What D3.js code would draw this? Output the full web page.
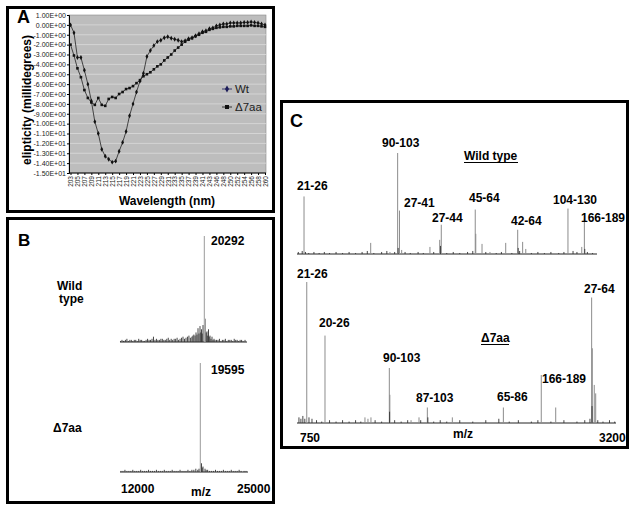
<!DOCTYPE html>
<html><head><meta charset="utf-8">
<script src="https://cdn.jsdelivr.net/npm/d3@7"></script>
<style>body{margin:0;background:#fff}svg{display:block}text{font-family:"Liberation Sans",Arial,sans-serif}</style>
</head><body><svg id="c" width="634" height="511"></svg>
<script>
// ---------- Panel A data (CD spectra) ----------
const wavelengths = [203,204,205,206,207,208,209,210,211,212,213,214,215,216,217,218,219,220,221,222,223,224,225,226,227,228,229,230,231,232,233,234,235,236,237,238,239,240,241,242,243,245,246,247,248,249,250,251,252,253,254,255,256,257,258,259,260];
const wtCD = [0.0,-0.8,-3.3,-3.3,-4.6,-6.0,-7.7,-9.8,-11.0,-12.6,-13.3,-13.6,-13.9,-13.8,-12.8,-11.9,-10.8,-9.2,-8.0,-6.8,-5.7,-4.9,-3.2,-2.6,-2.1,-1.7,-1.55,-1.3,-1.2,-1.35,-1.45,-1.55,-1.7,-1.6,-1.4,-1.3,-1.1,-0.9,-0.7,-0.6,-0.4,-0.3,-0.1,0.0,0.1,0.1,0.2,0.2,0.2,0.2,0.25,0.25,0.3,0.25,0.2,0.1,0.0];
const d7CD = [-2.0,-3.1,-4.4,-5.3,-6.6,-7.4,-7.85,-8.1,-7.4,-8.1,-8.2,-7.5,-7.3,-7.4,-7.0,-6.8,-6.5,-6.4,-6.2,-5.9,-5.6,-5.2,-5.0,-4.8,-4.5,-4.2,-4.0,-3.6,-3.3,-3.0,-2.6,-2.3,-2.0,-1.7,-1.5,-1.35,-1.15,-1.0,-0.8,-0.7,-0.5,-0.4,-0.3,-0.25,-0.2,-0.2,-0.15,-0.15,-0.1,-0.1,-0.1,-0.1,-0.05,-0.1,-0.1,-0.15,-0.2];
const cdTicks = [1,0,-1,-2,-3,-4,-5,-6,-7,-8,-9,-10,-11,-12,-13,-14,-15];
const wlLabels = [203,205,207,209,211,213,215,217,219,221,223,225,227,229,231,233,235,237,239,241,243,246,248,250,252,254,256,258,260];
const seriesNames = ["Wt","\u03947aa"];

// ---------- Panel B data (intact mass, m/z, relative intensity) ----------
const bWtPeaks = [[20562,100],[20684,22]];
const bWtNoise = [[12050,1],[12200,2],[12350,1],[12400,1],[12550,2],[12700,3],[12850,1],[13000,2],[13150,2],[13300,1],[13450,2],[13600,2],[13750,1],[13900,3],[14050,2],[14200,2],[14350,1],[14500,1],[14650,2],[14800,3],[14950,2],[15100,2],[15250,3],[15400,5],[15550,2],[15700,3],[15850,2],[16000,2],[16150,3],[16300,3],[16450,2],[16600,2],[16750,3],[16900,4],[17050,2],[17200,3],[17350,2],[17500,3],[17650,3],[17800,4],[17950,2],[18100,3],[18250,4],[18400,5],[18550,3],[18700,4],[18850,5],[19000,6],[19150,4],[19300,5],[19400,6],[19500,7],[19620,6],[19719,9],[19820,7],[19922,13],[20020,8],[20125,15],[20200,9],[20278,12],[20350,8],[20430,16],[20760,9],[20836,10],[20910,6],[20989,12],[21060,5],[21141,6],[21240,3],[21344,5],[21450,2],[21547,3],[21650,2],[21800,2],[21950,2],[22100,3],[22250,1],[22400,2],[22550,2],[22700,3],[22850,1],[23000,2],[23150,2],[23300,2],[23450,1],[23600,3],[23750,2],[23900,2],[24050,1],[24200,2],[24350,2],[24500,1],[24700,2]];
const bD7Peaks = [[20156,100]];
const bD7Noise = [[12100,1],[12300,1],[12500,2],[12700,1],[12900,1],[13100,1],[13300,2],[13500,1],[13700,1],[13900,1],[14100,2],[14300,1],[14500,1],[14700,1],[14900,2],[15100,1],[15300,1],[15500,1],[15700,2],[15900,1],[16100,1],[16300,1],[16500,2],[16700,1],[16900,1],[17100,1],[17300,2],[17500,1],[17700,1],[17900,1],[18100,2],[18300,1],[18500,1],[18700,1],[18900,2],[19100,1],[19300,2],[19500,2],[19700,3],[19900,2],[20024,3],[20278,8],[20350,4],[20430,5],[20633,3],[20750,2],[20900,2],[21100,1],[21300,1],[21500,1],[21700,2],[21900,1],[22100,1],[22300,1],[22500,2],[22700,1],[22900,1],[23100,1],[23300,2],[23500,1],[23700,1],[23900,1],[24100,2],[24300,1],[24600,1],[24800,1]];

// ---------- Panel C data (peptide map, m/z, relative intensity) ----------
const cWtPeaks = [[804,57],[1316,11],[1464,2],[1523,100],[1537,43],[1554,4],[1771,7],[1846,14],[1858,29],[2119,44],[2123,20],[2171,10],[2232,2],[2353,11],[2445,24],[2483,12],[2507,5],[2831,45],[2937,7],[2957,35]];
const cWtNoise = [[760,2],[790,3],[815,2],[840,1],[880,2],[920,1],[960,2],[1000,1],[1050,2],[1100,1],[1150,2],[1200,1],[1250,2],[1290,3],[1340,1],[1400,2],[1440,3],[1500,2],[1527,6],[1580,2],[1620,1],[1680,2],[1720,1],[1800,2],[1852,8],[1900,1],[1950,2],[2000,1],[2060,2],[2100,3],[2200,2],[2280,1],[2320,2],[2400,1],[2449,6],[2460,3],[2550,1],[2600,2],[2650,1],[2700,2],[2760,1],[2800,2],[2870,3],[2900,2],[2960,5],[2980,2],[3020,1]];
const cD7Peaks = [[825,100],[965,62],[1272,4],[1295,3],[1318,4],[1459,39],[1463,20],[1626,2],[1687,4],[1751,11],[1943,4],[2335,11],[2626,34],[2737,11],[3013,89],[3018,53],[3033,27],[3044,21]];
const cD7Noise = [[765,4],[780,3],[795,5],[810,3],[842,4],[865,3],[900,2],[940,1],[1000,2],[1050,1],[1100,2],[1150,1],[1200,2],[1240,1],[1350,2],[1400,1],[1461,8],[1500,2],[1550,1],[1600,2],[1700,2],[1755,4],[1800,1],[1850,2],[1900,1],[2000,2],[2100,1],[2200,2],[2300,3],[2380,1],[2450,2],[2550,1],[2600,2],[2700,1],[2800,2],[2900,1],[2960,2],[3000,3],[3016,12],[3060,2],[3100,1],[3150,2],[3190,1]];
const cWtLabels = ["21-26","90-103","27-41","27-44","45-64","42-64","104-130","166-189"];
const cD7Labels = ["21-26","20-26","90-103","87-103","65-86","166-189","27-64"];

// ---------- layout ----------
const svg = d3.select("#c");
const F = "'Liberation Sans', Arial, sans-serif";

[[7.5,7.5,266,204],[7.5,218.5,266,284],[281.5,101.5,346,346]].forEach(r=>{
  svg.append("rect").attr("x",r[0]).attr("y",r[1]).attr("width",r[2]).attr("height",r[3])
    .attr("fill","none").attr("stroke","#000").attr("stroke-width",3);
});
const panelLetter=(t,x,y,s)=>svg.append("text").attr("x",x).attr("y",y).attr("font-size",s).attr("font-weight","bold").text(t);
panelLetter("A",17,23,18);
panelLetter("B",18,246,17);
panelLetter("C",290,127,18);

// ===== Panel A =====
const xA = d3.scalePoint().domain(wavelengths).range([70.5,265]);
const yA = d3.scaleLinear().domain([-15,1]).range([173,15]);
const gA = svg.append("g");
gA.append("rect").attr("x",69).attr("y",yA(1)).attr("width",266-69).attr("height",yA(-15)-yA(1))
  .attr("fill","#bdbdbd").attr("stroke","#8a8a8a").attr("stroke-width",0.6);
gA.selectAll("line.grid").data(cdTicks.slice(1,-1)).join("line").attr("class","grid")
  .attr("x1",69).attr("x2",266).attr("y1",d=>yA(d)).attr("y2",d=>yA(d))
  .attr("stroke","#dadada").attr("stroke-width",0.8);
function fmtE(v){
  if(v===0) return "0.00E+00";
  const e=Math.floor(Math.log10(Math.abs(v))+1e-9);
  const m=v/Math.pow(10,e);
  return m.toFixed(2)+"E"+(e<0?"-":"+")+String(Math.abs(e)).padStart(2,"0");
}
const axL = gA.append("g").attr("transform","translate(69,0)")
  .call(d3.axisLeft(yA).tickValues(cdTicks).tickFormat(fmtE).tickSize(2).tickPadding(1));
axL.select(".domain").attr("stroke","#000");
axL.selectAll("text").attr("font-size",7).attr("fill","#222").attr("font-family",F);
const axB = gA.append("g").attr("transform","translate(0,173)")
  .call(d3.axisBottom(xA).tickValues(wlLabels).tickSize(2).tickSizeOuter(0));
axB.select(".domain").attr("stroke","#000").attr("d","M69,0H266");
axB.selectAll("text").attr("font-size",6.5).attr("fill","#222").attr("font-family",F)
  .attr("transform","rotate(-90)").attr("text-anchor","end").attr("x",-3).attr("y",0).attr("dy","0.35em");

const lineA = d3.line().x((d,i)=>xA(wavelengths[i])).y(d=>yA(d));
gA.append("path").datum(wtCD).attr("d",lineA).attr("fill","none").attr("stroke","#222").attr("stroke-width",0.8);
gA.append("path").datum(d7CD).attr("d",lineA).attr("fill","none").attr("stroke","#222").attr("stroke-width",0.8);
const diamond = d3.symbol().type(d3.symbolDiamond).size(7);
gA.selectAll("path.wt").data(wtCD).join("path").attr("class","wt").attr("d",diamond)
  .attr("transform",(d,i)=>`translate(${xA(wavelengths[i])},${yA(d)})`).attr("fill","#111");
gA.selectAll("rect.d7").data(d7CD).join("rect").attr("class","d7")
  .attr("x",(d,i)=>xA(wavelengths[i])-1.3).attr("y",d=>yA(d)-1.3).attr("width",2.6).attr("height",2.6).attr("fill","#111");
const lg = gA.append("g");
[[89,"diamond"],[107,"square"]].forEach((L,k)=>{
  lg.append("line").attr("x1",222).attr("x2",232).attr("y1",L[0]).attr("y2",L[0]).attr("stroke",k?"#111":"#1c1c5a").attr("stroke-width",0.8);
  if(k===0) lg.append("path").attr("d",d3.symbol().type(d3.symbolDiamond).size(14)).attr("transform",`translate(227,${L[0]})`).attr("fill","#1c1c5a");
  else lg.append("rect").attr("x",225).attr("y",L[0]-2).attr("width",4).attr("height",4).attr("fill","#111");
  lg.append("text").attr("x",235).attr("y",L[0]+4).attr("font-size",11.5).attr("fill","#222").text(seriesNames[k]);
});
svg.append("text").attr("x",167).attr("y",205).attr("text-anchor","middle").attr("font-size",12).attr("font-weight","bold").text("Wavelength (nm)");
svg.append("text").attr("transform","translate(31,100) rotate(-90)").attr("text-anchor","middle").attr("font-size",12).attr("font-weight","bold").text("elipticity (millidegrees)");

// ===== helpers for spectra =====
function spectrum(g, xs, ys, x0, x1, peaks, noise, peakColor){
  g.append("line").attr("x1",xs(x0)).attr("x2",xs(x1)).attr("y1",ys(0)).attr("y2",ys(0)).attr("stroke","#222").attr("stroke-width",1);
  g.selectAll(null).data(peaks).join("line")
    .attr("x1",d=>xs(d[0])).attr("x2",d=>xs(d[0])).attr("y1",ys(0)).attr("y2",d=>ys(d[1]))
    .attr("stroke",peakColor).attr("stroke-width",1);
  g.selectAll(null).data(noise).join("line")
    .attr("x1",d=>xs(d[0])).attr("x2",d=>xs(d[0])).attr("y1",ys(0)).attr("y2",d=>ys(d[1]))
    .attr("stroke","#333").attr("stroke-width",0.9);
}
const bold12 = (t,x,y,anchor)=>svg.append("text").attr("x",x).attr("y",y).attr("font-size",12).attr("font-weight","bold").attr("text-anchor",anchor||"start").text(t);

// ===== Panel B =====
const xB = d3.scaleLinear().domain([12000,25000]).range([120,248]);
const yB1 = d3.scaleLinear().domain([0,100]).range([342,236]);
const yB2 = d3.scaleLinear().domain([0,100]).range([472,363]);
const gB = svg.append("g");
spectrum(gB, xB, yB1, 12000, 24900, bWtPeaks, bWtNoise, "#9a9a9a");
spectrum(gB, xB, yB2, 12000, 25000, bD7Peaks, bD7Noise, "#9a9a9a");
bold12("20292",211,245);
bold12("Wild",57,290); bold12("type",59,303);
bold12("19595",211,374);
bold12("\u03947aa",53,432);
bold12("12000",121,493); bold12("m/z",191,496); bold12("25000",237,493);

// ===== Panel C =====
const xC = d3.scaleLinear().domain([750,3200]).range([297,616]);
const yC1 = d3.scaleLinear().domain([0,100]).range([254,153]);
const yC2 = d3.scaleLinear().domain([0,100]).range([423,282]);
const gC = svg.append("g");
spectrum(gC, xC, yC1, 750, 3054, cWtPeaks, cWtNoise, "#8c8c8c");
spectrum(gC, xC, yC2, 750, 3200, cD7Peaks, cD7Noise, "#8c8c8c");
const cWtPos = [[297,190],[382,147],[404,207],[432,222],[469,202],[511,225],[553,204],[581,222]];
cWtLabels.forEach((t,i)=>bold12(t,cWtPos[i][0],cWtPos[i][1]));
const cD7Pos = [[297,278],[319,327],[383,362],[416,402],[497,401],[542,383],[584,293]];
cD7Labels.forEach((t,i)=>bold12(t,cD7Pos[i][0],cD7Pos[i][1]));
bold12("Wild type",464,160);
svg.append("line").attr("x1",464).attr("x2",518).attr("y1",162.5).attr("y2",162.5).attr("stroke","#000").attr("stroke-width",1);
bold12("\u03947aa",481,342);
svg.append("line").attr("x1",481).attr("x2",509).attr("y1",344.5).attr("y2",344.5).attr("stroke","#000").attr("stroke-width",1);
bold12("750",300,442); bold12("m/z",453,438); bold12("3200",599,442);
</script></body></html>
